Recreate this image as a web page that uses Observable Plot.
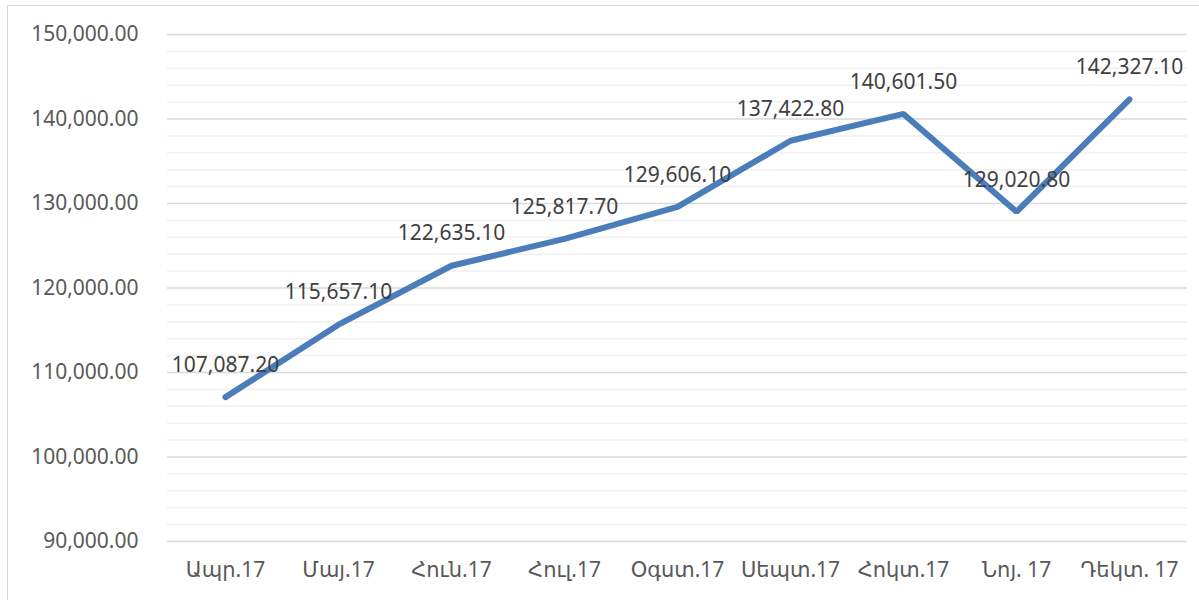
<!DOCTYPE html>
<html>
<head>
<meta charset="utf-8">
<script src="https://cdn.jsdelivr.net/npm/d3@7"></script>
<script src="https://cdn.jsdelivr.net/npm/@observablehq/plot@0.6"></script>
<style>
  html, body { margin: 0; padding: 0; background: #fff; }
  #wrap { position: relative; width: 1199px; height: 600px; overflow: hidden; }
  #border { position: absolute; left: 7px; top: 5px; width: 1200px; height: 620px; border: 1.5px solid #d9d9d9; box-sizing: border-box; pointer-events: none; }
  #chart { position: absolute; left: 0; top: 0; }
</style>
</head>
<body>
<div id="wrap"><div id="chart"></div><div id="border"></div></div>
<script>
const months = ["Ապր.17","Մայ.17","Հուն.17","Հուլ.17","Օգստ.17","Սեպտ.17","Հոկտ.17","Նոյ. 17","Դեկտ. 17"];
const values = [107087.2, 115657.1, 122635.1, 125817.7, 129606.1, 137422.8, 140601.5, 129020.8, 142327.1];
const majorTicks = [90000, 100000, 110000, 120000, 130000, 140000, 150000];
const minorTicks = d3.range(90000, 150001, 2000).filter(v => v % 10000 !== 0);

const data = months.map((m, i) => ({month: m, value: values[i]}));
const fmt = d3.format(",.2f");
const font = "'Noto Sans', 'DejaVu Sans', sans-serif";

const chart = Plot.plot({
  width: 1199,
  height: 600,
  marginLeft: 167,
  marginRight: 12,
  marginTop: 34,
  marginBottom: 59,
  style: {fontFamily: font, fontSize: "21px", color: "#595959", background: "transparent"},
  x: {type: "point", domain: months, padding: 0.5, label: null, tickSize: 0, tickPadding: 21},
  y: {domain: [90000, 150000], ticks: majorTicks, tickFormat: fmt, label: null, tickSize: 0, tickPadding: 29},
  marks: [
    Plot.ruleY(minorTicks, {stroke: "#f0f0f0", strokeWidth: 1.5}),
    Plot.ruleY(majorTicks, {stroke: "#d9d9d9", strokeWidth: 1.5}),
    Plot.line(data, {x: "month", y: "value", stroke: "#4a7dba", strokeWidth: 6, strokeLinecap: "round", strokeLinejoin: "miter"}),
    Plot.text(data, {x: "month", y: "value", text: d => fmt(d.value), dy: -32, fill: "#404040", fontSize: 21})
  ]
});
document.getElementById("chart").appendChild(chart);
</script>
</body>
</html>
